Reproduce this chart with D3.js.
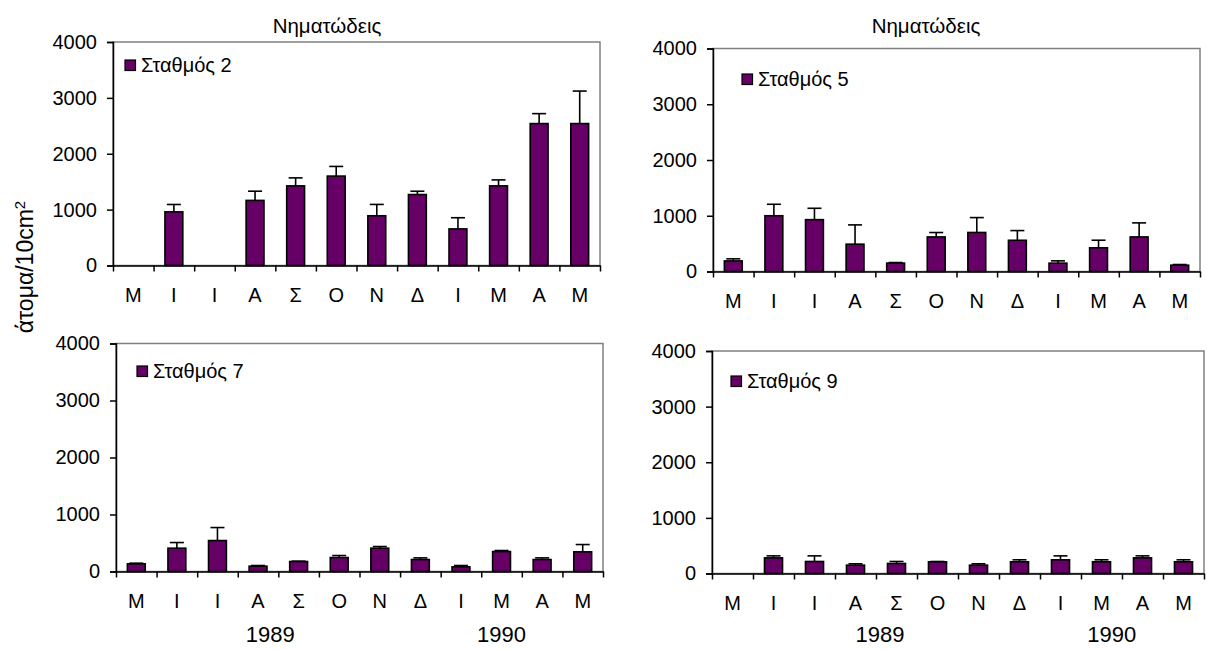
<!DOCTYPE html>
<html><head><meta charset="utf-8">
<script src="https://cdn.jsdelivr.net/npm/d3@7"></script>
<style>
body{margin:0;background:#fff}
svg{display:block}
text{font-family:"Liberation Sans",Arial,sans-serif;fill:#000}
</style>
</head><body>
<svg id="c" width="1207" height="649"></svg>
<script>
// ---- data ----
const months = ["Μ","Ι","Ι","Α","Σ","Ο","Ν","Δ","Ι","Μ","Α","Μ"];
const yTicks = [0, 1000, 2000, 3000, 4000];
const years = ["1989", "1990"];
const chartTitle = "Νηματώδεις";
const yLabelText = "άτομα/10cm";
const yLabelSup = "2";

const station2 = [null, 960, null, 1165, 1425, 1600, 890, 1270, 655, 1425, 2540, 2540];
const station2Err = [null, 132, null, 165, 143, 173, 203, 59, 200, 107, 178, 582];
const station5 = [190, 1000, 930, 490, 150, 620, 700, 560, 150, 425, 620, 113];
const station5Err = [37, 206, 204, 346, 11, 79, 267, 174, 41, 136, 252, 12];
const station7 = [134, 409, 543, 93, 175, 245, 409, 210, 82, 350, 210, 345];
const station7Err = [12, 99, 228, 12, 6, 35, 29, 29, 23, 18, 29, 128];
const station9 = [null, 281, 216, 150, 180, 210, 150, 210, 246, 210, 281, 210];
const station9Err = [null, 36, 101, 24, 36, 6, 24, 36, 71, 36, 36, 36];

// ---- layout ----
const panels = [
  {name: "Σταθμός 2", mean: station2, err: station2Err, left: 113, right: 600, top: 42, bottom: 265.5,
   legend: [125, 60], titleX: 327, yearPos: null},
  {name: "Σταθμός 5", mean: station5, err: station5Err, left: 713, right: 1200, top: 48.5, bottom: 271.5,
   legend: [742, 74], titleX: 926, yearPos: null},
  {name: "Σταθμός 7", mean: station7, err: station7Err, left: 116, right: 603, top: 343.5, bottom: 571.5,
   legend: [137, 366], titleX: null, yearPos: [3.8, 9.5]},
  {name: "Σταθμός 9", mean: station9, err: station9Err, left: 712, right: 1204, top: 351, bottom: 573.5,
   legend: [731, 376], titleX: null, yearPos: [4.1, 9.75]}
];

const purple = "#660066";
const svg = d3.select("#c");

panels.forEach(p => {
  const g = svg.append("g");
  const x = d3.scaleBand().domain(d3.range(months.length)).range([p.left, p.right]).padding(0);
  const xb = d3.scaleLinear().domain([0, months.length]).range([p.left, p.right]);
  const y = d3.scaleLinear().domain([0, 4000]).range([p.bottom, p.top]);

  // plot area border (gray)
  g.append("rect")
    .attr("x", p.left).attr("y", p.top)
    .attr("width", p.right - p.left).attr("height", p.bottom - p.top)
    .attr("fill", "#fff").attr("stroke", "#808080").attr("stroke-width", 1.5);

  const bw = x.bandwidth() * 0.44;
  const data = months.map((m, i) => ({i, v: p.mean[i], e: p.err[i]})).filter(d => d.v != null);

  // error bars (upper only)
  const eg = g.append("g").attr("stroke", "#000").attr("stroke-width", 1.6);
  eg.selectAll("line.v").data(data).join("line")
    .attr("x1", d => x(d.i) + x.bandwidth() / 2).attr("x2", d => x(d.i) + x.bandwidth() / 2)
    .attr("y1", d => y(d.v)).attr("y2", d => y(d.v + d.e));
  eg.selectAll("line.c").data(data).join("line")
    .attr("x1", d => x(d.i) + x.bandwidth() / 2 - 7).attr("x2", d => x(d.i) + x.bandwidth() / 2 + 7)
    .attr("y1", d => y(d.v + d.e)).attr("y2", d => y(d.v + d.e));

  // bars
  g.append("g").selectAll("rect").data(data).join("rect")
    .attr("x", d => x(d.i) + (x.bandwidth() - bw) / 2)
    .attr("width", bw)
    .attr("y", d => y(d.v))
    .attr("height", d => y(0) - y(d.v))
    .attr("fill", purple).attr("stroke", "#000").attr("stroke-width", 1.6);

  // y axis
  const ya = g.append("g").attr("transform", `translate(${p.left},0)`)
    .call(d3.axisLeft(y).tickValues(yTicks).tickFormat(d3.format("d")).tickSize(6).tickPadding(10));
  ya.selectAll("path,line").attr("stroke", "#000").attr("stroke-width", 1.5);
  ya.selectAll("text").style("font-size", "20px").attr("fill", "#000");

  // x axis boundary ticks
  const xa = g.append("g").attr("transform", `translate(0,${p.bottom})`)
    .call(d3.axisBottom(xb).tickValues(d3.range(months.length + 1)).tickFormat("").tickSize(6).tickSizeOuter(0));
  xa.selectAll("path,line").attr("stroke", "#000").attr("stroke-width", 1.5);

  // x category labels
  const xl = g.append("g").attr("transform", `translate(0,${p.bottom})`)
    .call(d3.axisBottom(x).tickFormat(i => months[i]).tickSize(0).tickPadding(22.5));
  xl.select(".domain").remove();
  xl.selectAll("text").style("font-size", "20px").attr("fill", "#000");

  // legend
  g.append("rect").attr("x", p.legend[0]).attr("y", p.legend[1]).attr("width", 10.5).attr("height", 10.5)
    .attr("fill", purple).attr("stroke", "#000").attr("stroke-width", 1.2);
  g.append("text").attr("x", p.legend[0] + 16).attr("y", p.legend[1] + 11.5)
    .style("font-size", "20px").text(p.name);

  // title
  if (p.titleX != null) {
    g.append("text").attr("x", p.titleX).attr("y", 33).attr("text-anchor", "middle")
      .style("font-size", "20.5px").text(chartTitle);
  }
  // years
  if (p.yearPos) {
    g.selectAll("text.yr").data(years).join("text").attr("class", "yr")
      .attr("x", (d, i) => xb(p.yearPos[i])).attr("y", 642)
      .attr("text-anchor", "middle").style("font-size", "22px").text(d => d);
  }
});

// y label
const yl = svg.append("text").attr("transform", "translate(33,267) rotate(-90)")
  .attr("text-anchor", "middle").style("font-size", "23px");
yl.append("tspan").text(yLabelText);
yl.append("tspan").attr("baseline-shift", "super").style("font-size", "15px").text(yLabelSup);
</script>
</body></html>
